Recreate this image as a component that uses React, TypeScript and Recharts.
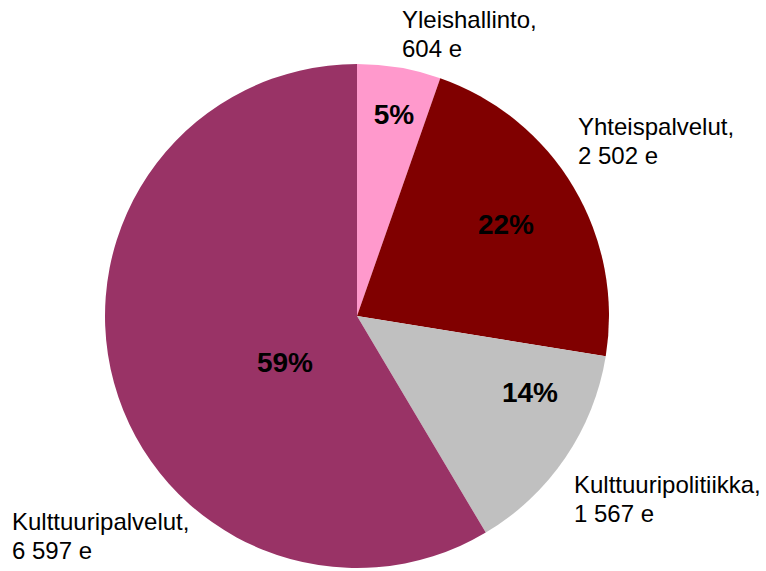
import React from "react";
import { PieChart, Pie, Cell } from "recharts";

const categories = ["Yleishallinto", "Yhteispalvelut", "Kulttuuripolitiikka", "Kulttuuripalvelut"];
const values = [604, 2502, 1567, 6597];
const colors = ["#FF99CC", "#800000", "#C0C0C0", "#993366"];

// label layout offsets relative to pie centre
const pctOffsets = [
  [37, -202],
  [149, -92],
  [173, 76],
  [-72, 46],
];
const nameOffsets = [
  [45, -288],
  [221, -181],
  [217, 177],
  [-345, 214],
];

const data = categories.map((name, i) => ({ name, value: values[i] }));

const fmt = (v: number) => v.toString().replace(/\B(?=(\d{3})+(?!\d))/g, " ");

const renderLabel = (props: any) => {
  const { cx, cy, index, percent } = props;
  const [px, py] = pctOffsets[index];
  const [nx, ny] = nameOffsets[index];
  return (
    <g key={`lbl-${index}`}>
      <text
        x={cx + px}
        y={cy + py}
        textAnchor="middle"
        dominantBaseline="central"
        fill="#000"
        fontSize={28}
        fontWeight="bold"
        fontFamily="'Liberation Sans', Arial, sans-serif"
      >
        {Math.round(percent * 100) + "%"}
      </text>
      <text
        x={cx + nx}
        y={cy + ny}
        textAnchor="start"
        fill="#000"
        fontSize={24}
        fontFamily="'Liberation Sans', Arial, sans-serif"
      >
        <tspan x={cx + nx} y={cy + ny}>{categories[index] + ","}</tspan>
        <tspan x={cx + nx} y={cy + ny + 29}>{fmt(values[index]) + " e"}</tspan>
      </text>
    </g>
  );
};

export default function App() {
  return (
    <div style={{ position: "absolute", left: 0, top: 0, width: 766, height: 571, background: "#fff" }}>
      <PieChart width={766} height={571} margin={{ top: 0, right: 0, bottom: 0, left: 0 }}>
        <Pie
          data={data}
          dataKey="value"
          nameKey="name"
          cx={357}
          cy={316}
          outerRadius={252}
          startAngle={90}
          endAngle={-270}
          stroke="none"
          label={renderLabel}
          labelLine={false}
          isAnimationActive={false}
        >
          {data.map((d, i) => (
            <Cell key={d.name} fill={colors[i]} />
          ))}
        </Pie>
      </PieChart>
    </div>
  );
}
